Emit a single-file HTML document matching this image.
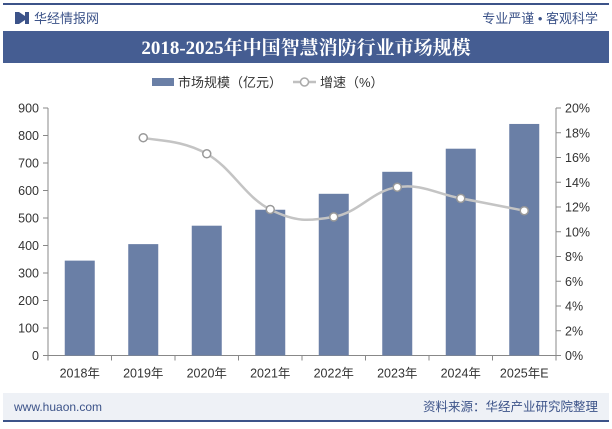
<!DOCTYPE html>
<html><head><meta charset="utf-8">
<style>
body{margin:0;width:612px;height:424px;overflow:hidden;background:#fff;font-family:"Liberation Sans","Noto Sans CJK SC",sans-serif;}
svg text{font-family:"Liberation Sans","Noto Sans CJK SC",sans-serif;}
</style></head><body>
<svg id="c" width="612" height="424" xmlns="http://www.w3.org/2000/svg">
<rect x="3" y="3" width="606" height="2" fill="#3c5389"/>
<rect x="15" y="12" width="4" height="12" fill="#3c5389"/>
<polygon points="19,12 25,16 25,20 19,24" fill="#3c5389"/>
<rect x="25" y="12" width="4" height="12" fill="#3c5389"/>
<text x="34" y="23" font-size="13" fill="#3c5389">华经情报网</text>
<text x="598" y="23" font-size="13" fill="#3c5389" text-anchor="end">专业严谨 • 客观科学</text>
<rect x="3" y="31" width="606" height="32" fill="#455d92"/>
<text x="306" y="54" font-size="19" font-weight="bold" fill="#fff" text-anchor="middle" style="font-family:'Liberation Serif','Noto Serif CJK SC',serif">2018-2025年中国智慧消防行业市场规模</text>
<g>
<rect x="152" y="78" width="22" height="8" fill="#6a7fa6"/>
<text x="178" y="87" font-size="13" fill="#333">市场规模（亿元）</text>
<line x1="293" y1="82" x2="316" y2="82" stroke="#c0c0c0" stroke-width="2.5"/>
<circle cx="304.5" cy="82" r="4" fill="#fff" stroke="#aaa" stroke-width="1.5"/>
<text x="320" y="87" font-size="13" fill="#333">增速（%）</text>
</g>
<g id="plot"></g>
<rect x="3" y="393" width="606" height="28" fill="#eef1f6"/>
<rect x="3" y="420" width="606" height="2" fill="#3c5389"/>
<text x="14" y="411" font-size="12" fill="#3c5389">www.huaon.com</text>
<text x="598" y="411" font-size="12.5" fill="#3c5389" text-anchor="end">资料来源：华经产业研究院整理</text>
</svg>
<script>
const categories=["2018年","2019年","2020年","2021年","2022年","2023年","2024年","2025年E"];
const marketSize=[345,405,472,530,588,668,752,842];
const growth=[null,17.6,16.3,11.8,11.2,13.6,12.7,11.7];
const leftTicks=[0,100,200,300,400,500,600,700,800,900];
const rightTicks=[0,2,4,6,8,10,12,14,16,18,20];

const NS="http://www.w3.org/2000/svg";
const g=document.getElementById('plot');
const X0=48,X1=556,Y0=355.5,Y1=108;
const bw=(X1-X0)/categories.length;
const yL=v=>Y0-(v/900)*(Y0-Y1);
const yR=v=>Y0-(v/20)*(Y0-Y1);
const xC=i=>X0+bw*(i+0.5);
function mk(t,a){const e=document.createElementNS(NS,t);for(const k in a)e.setAttribute(k,a[k]);g.appendChild(e);return e;}

let e;
e=mk('line',{x1:X0,y1:Y1,x2:X0,y2:Y0,stroke:'#888'});


e=mk('line',{x1:X1,y1:Y1,x2:X1,y2:Y0,stroke:'#888'});


e=mk('line',{x1:X0,y1:Y0,x2:X1,y2:Y0,stroke:'#888'});



leftTicks.forEach(v=>{
 e=mk('line',{x1:X0-5,y1:yL(v),x2:X0,y2:yL(v),stroke:'#888'});
 
 
 e=mk('text',{x:X0-9,y:yL(v)+4.5,'font-size':12.5,fill:'#333','text-anchor':'end'});e.textContent=v;
 
 
});
rightTicks.forEach(v=>{
 e=mk('line',{x1:X1,y1:yR(v),x2:X1+5,y2:yR(v),stroke:'#888'});
 
 
 e=mk('text',{x:X1+9,y:yR(v)+4.5,'font-size':12.5,fill:'#333'});e.textContent=v+'%';
 
 
});
for(let i=0;i<=categories.length;i++){
 e=mk('line',{x1:X0+bw*i,y1:Y0,x2:X0+bw*i,y2:Y0+5,stroke:'#888'});
 
 
}
categories.forEach((c,i)=>{
 e=mk('rect',{x:xC(i)-15,y:yL(marketSize[i]),width:30,height:Y0-yL(marketSize[i]),fill:'#6a7fa6'});
 
 
 e=mk('text',{x:xC(i),y:Y0+22,'font-size':12.5,fill:'#333','text-anchor':'middle'});e.textContent=c;
 
 
});
const pts=[];growth.forEach((v,i)=>{if(v!==null)pts.push([xC(i),yR(v)]);});
let d='M'+pts[0][0]+','+pts[0][1];
for(let i=0;i<pts.length-1;i++){
 const p0=pts[i-1]||pts[i],p1=pts[i],p2=pts[i+1],p3=pts[i+2]||p2,t=0.2;
 const c1x=p1[0]+(p2[0]-p0[0])*t,c1y=p1[1]+(p2[1]-p0[1])*t;
 const c2x=p2[0]-(p3[0]-p1[0])*t,c2y=p2[1]-(p3[1]-p1[1])*t;
 d+=` C${c1x},${c1y} ${c2x},${c2y} ${p2[0]},${p2[1]}`;
}
e=mk('path',{d:d,fill:'none',stroke:'#c4c4c4','stroke-width':2.5});


pts.forEach(p=>{
 e=mk('circle',{cx:p[0],cy:p[1],r:4,fill:'#fff',stroke:'#999','stroke-width':1.5});
 
 
});
</script>
</body></html>
